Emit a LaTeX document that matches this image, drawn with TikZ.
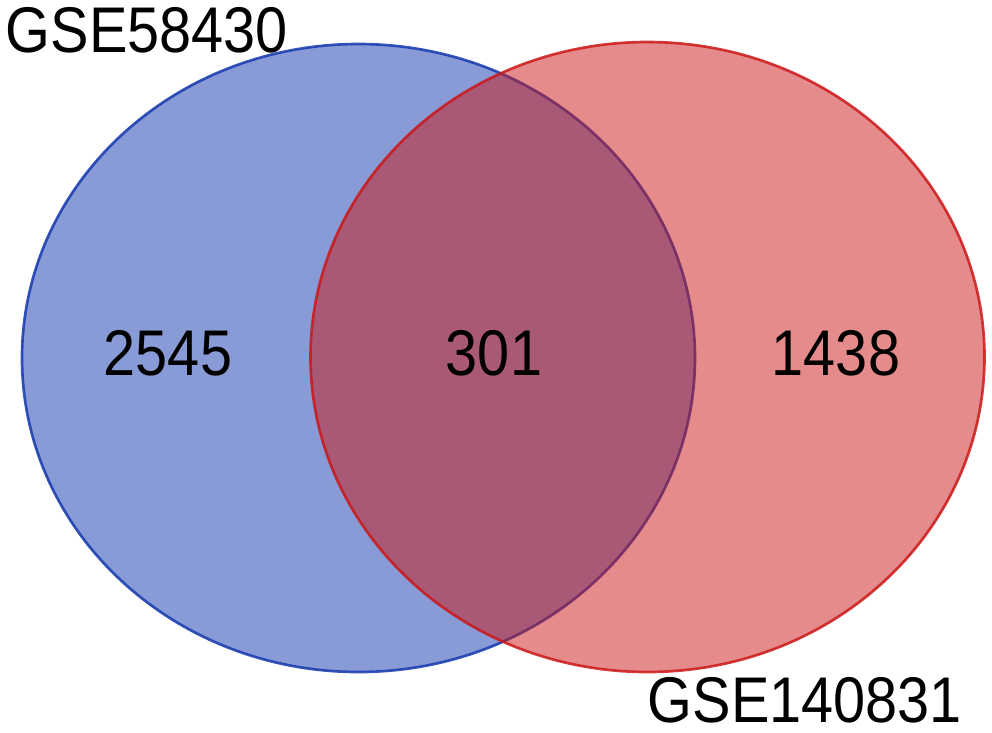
\documentclass[tikz,border=0pt]{standalone}
\usepackage{fontspec}
\setmainfont{Liberation Sans}
\definecolor{setblue}{RGB}{19,55,173}
\definecolor{setred}{RGB}{203,23,23}
\newcommand{\tallnum}[1]{\scalebox{1}[1.12]{#1}}
\tikzset{
  venn/.style = {line width=1.9pt, fill opacity=.5, draw opacity=.85},
  lbl/.style = {anchor=base, inner sep=0pt, font=\fontsize{41}{41}\selectfont}
}

\begin{document}
\begin{tikzpicture}[x=0.025cm, y=-0.025cm]
  \useasboundingbox (0,0) rectangle (992,732);
  \draw [venn, draw=setblue, fill=setblue] (358.5,358) ellipse [x radius=336.5, y radius=314];
  \draw [venn, draw=setred, fill=setred] (647.5,357) ellipse [x radius=337, y radius=315];
  \node[lbl] (nA) at (168,375) {\tallnum{2545}};
  \node[lbl] (nAB) at (494,375) {\tallnum{301}};
  \node[lbl] (nB) at (836,375) {\tallnum{1438}};
  \node[lbl] (setA) at (147,52) {\tallnum{GSE58430}};
  \node[lbl] (setB) at (805,722) {\tallnum{GSE140831}};
\end{tikzpicture}
\end{document}
